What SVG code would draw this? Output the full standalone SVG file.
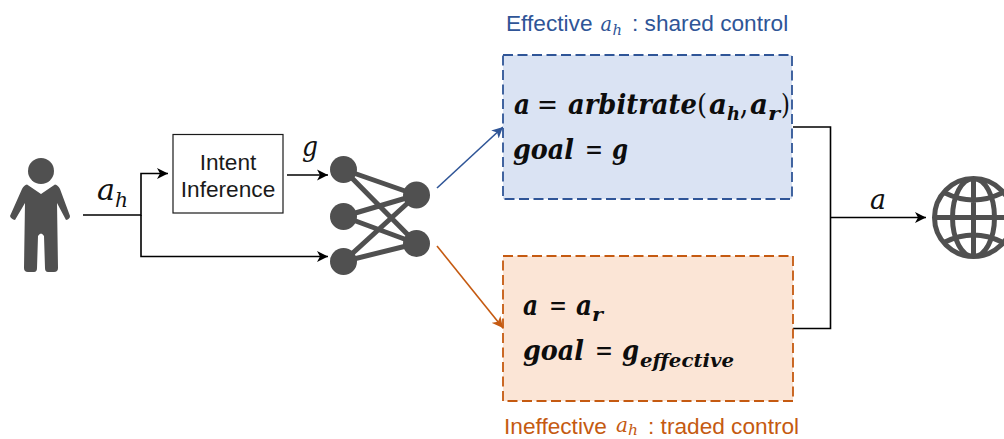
<svg xmlns="http://www.w3.org/2000/svg" width="1004" height="439" viewBox="0 0 1004 439">
<style>
.sans{font-family:"Liberation Sans",Arial,sans-serif;font-size:22.67px}
.m{font-family:"DejaVu Serif","Liberation Serif",serif;font-style:italic;fill:#111}
.mb{font-family:"DejaVu Serif","Liberation Serif",serif;font-style:italic;font-weight:bold;font-size:27px;fill:#0d0d0d}
.mr{font-family:"DejaVu Serif","Liberation Serif",serif;font-size:27px;fill:#0d0d0d}
.ln{fill:none;stroke:#000;stroke-width:1.6}
.dark{fill:#505050}
.edge{stroke:#505050;stroke-width:5;fill:none}
.gl{stroke:#505050;stroke-width:5;fill:none}
.blue{fill:#2f5597}
.or{fill:#c55a11}
</style>
<defs>
<marker id="ab" markerUnits="userSpaceOnUse" markerWidth="12" markerHeight="12" refX="11" refY="6" orient="auto"><path d="M0,0.5 L11,6 L0,11.5 L3,6 Z" fill="#000"/></marker>
<marker id="ac" markerUnits="userSpaceOnUse" markerWidth="12" markerHeight="12" refX="11" refY="6" orient="auto"><path d="M0,0.5 L11,6 L0,11.5 L3,6 Z" fill="#2f5597"/></marker>
<marker id="ao" markerUnits="userSpaceOnUse" markerWidth="12" markerHeight="12" refX="11" refY="6" orient="auto"><path d="M0,0.5 L11,6 L0,11.5 L3,6 Z" fill="#c55a11"/></marker>
<clipPath id="gc"><circle cx="973.5" cy="217.5" r="39"/></clipPath>
</defs>
<g id="connectors">
<path class="ln" d="M83,215 H141 V173.5 H168" marker-end="url(#ab)"/>
<path class="ln" d="M141,215 V256.5 H328" marker-end="url(#ab)"/>
<path class="ln" d="M287,175 H328" marker-end="url(#ab)"/>
<path d="M437,188 L503,127" fill="none" stroke="#2f5597" stroke-width="1.6" marker-end="url(#ac)"/>
<path d="M437,246 L503,328" fill="none" stroke="#c55a11" stroke-width="1.6" marker-end="url(#ao)"/>
<path class="ln" d="M793,127 H830.5 V328.5 H793"/>
<path class="ln" d="M830,217.5 H926" marker-end="url(#ab)"/>
</g>
<g id="person">
<circle class="dark" cx="41" cy="171" r="13"/>
<path class="dark" d="M27,184.5 L41,194 L55,184.5 Q58,185 60,189 L70,216 Q70,219 66,220 L57,203 L58,268 Q58,272 54,272 L48,272 Q45,272 45,268 L44,236 Q41,231 38,236 L37,268 Q37,272 34,272 L28,272 Q24,272 24,268 L25,203 L15,220 Q11,219 10,216 L22,189 Q24,185 27,184.5 Z"/>
</g>
<g id="ah-label">
<text class="m" x="97" y="200" font-size="30" textLength="18" lengthAdjust="spacingAndGlyphs">a</text>
<text class="m" x="115" y="207" font-size="20" textLength="13" lengthAdjust="spacingAndGlyphs">h</text>
</g>
<g id="intent">
<rect x="173" y="134.5" width="110" height="78.5" fill="#fff" stroke="#1a1a1a" stroke-width="1.2"/>
<text class="sans" fill="#1a1a1a" text-anchor="middle"><tspan x="228" y="170">Intent</tspan><tspan x="228" y="197">Inference</tspan></text>
</g>
<g id="g-label"><text class="m" x="302" y="156" font-size="28" textLength="16" lengthAdjust="spacingAndGlyphs">g</text></g>
<g id="network">
<path class="edge" d="M343.5,169.5 L416.5,195 M343.5,169.5 L416.5,243.5 M343.5,216.5 L416.5,195 M343.5,216.5 L416.5,243.5 M343.5,261.5 L416.5,195 M343.5,261.5 L416.5,243.5"/>
<circle class="dark" cx="343.5" cy="169.5" r="13.5"/>
<circle class="dark" cx="343.5" cy="216.5" r="13.5"/>
<circle class="dark" cx="343.5" cy="261.5" r="13.5"/>
<circle class="dark" cx="416.5" cy="195" r="13.5"/>
<circle class="dark" cx="416.5" cy="243.5" r="13.5"/>
</g>
<g id="shared">
<text class="sans blue" x="506" y="31">Effective</text>
<text class="m" font-size="21" x="600.5" y="31" textLength="11.5" lengthAdjust="spacingAndGlyphs" style="fill:#2f5597">a</text>
<text class="m" font-size="15" x="612.5" y="35" textLength="9.5" lengthAdjust="spacingAndGlyphs" style="fill:#2f5597">h</text>
<text class="sans blue" x="632" y="31">: shared control</text>
<rect x="503" y="55" width="289" height="144" fill="#dae3f3" stroke="#2f5597" stroke-width="1.8" stroke-dasharray="10 4.5"/>
<text class="mb" x="514" y="114" textLength="16" lengthAdjust="spacingAndGlyphs">a</text>
<text class="mr" x="537" y="114" textLength="21" lengthAdjust="spacingAndGlyphs">=</text>
<text class="mb" x="568" y="114" textLength="139" lengthAdjust="spacingAndGlyphs">arbitrate<tspan class="mr" style="font-style:normal;font-weight:normal">(</tspan></text>
<text class="mb" x="709" y="114" textLength="18" lengthAdjust="spacingAndGlyphs">a</text>
<text class="mb" x="727" y="120" textLength="13" lengthAdjust="spacingAndGlyphs" style="font-size:19px">h</text>
<text class="mb" x="741" y="114" textLength="6" lengthAdjust="spacingAndGlyphs">,</text>
<text class="mb" x="750" y="114" textLength="18" lengthAdjust="spacingAndGlyphs">a</text>
<text class="mb" x="768" y="120" textLength="12" lengthAdjust="spacingAndGlyphs" style="font-size:19px">r</text>
<text class="mr" x="781" y="114" textLength="9" lengthAdjust="spacingAndGlyphs">)</text>
<text class="mb" x="513" y="159" textLength="61" lengthAdjust="spacingAndGlyphs">goal</text>
<text class="mr" x="585" y="159" textLength="18" lengthAdjust="spacingAndGlyphs">=</text>
<text class="mb" x="612" y="159" textLength="16" lengthAdjust="spacingAndGlyphs">g</text>
</g>
<g id="traded">
<rect x="503" y="256" width="290" height="145" fill="#fbe5d6" stroke="#c55a11" stroke-width="1.8" stroke-dasharray="10 4.5"/>
<text class="mb" x="523" y="315" textLength="15" lengthAdjust="spacingAndGlyphs">a</text>
<text class="mr" x="549" y="315" textLength="18" lengthAdjust="spacingAndGlyphs">=</text>
<text class="mb" x="576" y="315" textLength="16" lengthAdjust="spacingAndGlyphs">a</text>
<text class="mb" x="592" y="321" textLength="11" lengthAdjust="spacingAndGlyphs" style="font-size:19px">r</text>
<text class="mb" x="523" y="360" textLength="61" lengthAdjust="spacingAndGlyphs">goal</text>
<text class="mr" x="595" y="360" textLength="18" lengthAdjust="spacingAndGlyphs">=</text>
<text class="mb" x="622" y="360" textLength="17" lengthAdjust="spacingAndGlyphs">g</text>
<text class="mb" x="640" y="367" textLength="94" lengthAdjust="spacingAndGlyphs" style="font-size:19px">effective</text>
<text class="sans or" x="504" y="434">Ineffective</text>
<text class="m" font-size="21" x="616" y="432" textLength="12" lengthAdjust="spacingAndGlyphs" style="fill:#c55a11">a</text>
<text class="m" font-size="15" x="628" y="435" textLength="10" lengthAdjust="spacingAndGlyphs" style="fill:#c55a11">h</text>
<text class="sans or" x="648" y="434">: traded control</text>
</g>
<g id="a-label"><text class="m" x="870" y="208.5" font-size="28" textLength="16" lengthAdjust="spacingAndGlyphs">a</text></g>
<g id="world">
<circle class="gl" cx="973.5" cy="217.5" r="39"/>
<g clip-path="url(#gc)">
<ellipse class="gl" cx="973.5" cy="217.5" rx="21" ry="39"/>
<path class="gl" d="M973.5,178 V257 M934,217.5 H1013 M945,193 Q973.5,207 1002,193 M945,242 Q973.5,228 1002,242"/>
</g>
</g>
</svg>
